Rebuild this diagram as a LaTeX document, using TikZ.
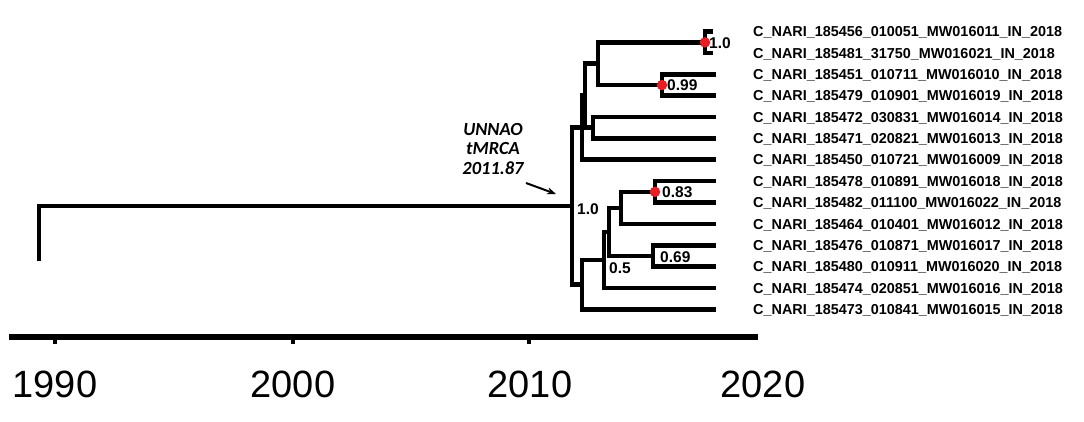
\documentclass[tikz,border=0pt]{standalone}
\usepackage{fontspec}
\setmainfont{Liberation Sans}
\newfontfamily\calib{Carlito}
\usetikzlibrary{arrows.meta}
\definecolor{dotred}{RGB}{232,30,37}
\begin{document}
\begin{tikzpicture}[x=1pt,y=-1pt,
  branch/.style={line width=4.6pt, line cap=butt, line join=miter},
  leaflabel/.style={anchor=base west, inner sep=0pt, font=\bfseries\fontsize{14.4}{16}\selectfont},
  support/.style={anchor=west, inner sep=0pt, font=\bfseries\fontsize{15.5}{17}\selectfont},
  reddot/.style={circle, fill=dotred, minimum size=10.5pt, inner sep=0pt},
  yearlabel/.style={inner sep=0pt, font=\fontsize{38}{40}\selectfont},
  axisline/.style={line width=6pt},
  tickmark/.style={line width=4pt}]
\fill[white] (0,0) rectangle (1084,422);
\useasboundingbox (0,0) rectangle (1084,422);

% leaves (tips)
\coordinate (L1) at (713,31.7);
\coordinate (L2) at (713,53.1);
\coordinate (L3) at (716,74.4);
\coordinate (L4) at (716,95.8);
\coordinate (L5) at (716,117.1);
\coordinate (L6) at (716,138.5);
\coordinate (L7) at (716,159.8);
\coordinate (L8) at (716,181.2);
\coordinate (L9) at (716,202.5);
\coordinate (L10) at (716,223.9);
\coordinate (L11) at (716,245.2);
\coordinate (L12) at (716,266.6);
\coordinate (L13) at (716,287.9);
\coordinate (L14) at (716,309.3);

% internal nodes
\coordinate (A) at (705,42.4);
\coordinate (B) at (662,85.1);
\coordinate (T) at (598,63.75);
\coordinate (S) at (593,127.8);
\coordinate (Q) at (585,95.8);
\coordinate (P) at (582,127.8);
\coordinate (J) at (655,191.85);
\coordinate (O) at (621,207.9);
\coordinate (K) at (653,255.9);
\coordinate (N) at (609,231.9);
\coordinate (M) at (604,259.9);
\coordinate (Lo) at (582,284.6);
\coordinate (R) at (572,206.2);
\coordinate (rs) at (39,261);

% branches
\draw[branch] (rs) |- (R);
\draw[branch] (P) -| (R) |- (Lo);
\draw[branch] (Q) -| (P) |- (L7);
\draw[branch] (T) -| (Q) |- (S);
\draw[branch] (A) -| (T) |- (B);
\draw[branch] (L1) -| (A) |- (L2);
\draw[branch] (L3) -| (B) |- (L4);
\draw[branch] (L5) -| (S) |- (L6);
\draw[branch] (M) -| (Lo) |- (L14);
\draw[branch] (N) -| (M) |- (L13);
\draw[branch] (O) -| (N) |- (K);
\draw[branch] (J) -| (O) |- (L10);
\draw[branch] (L8) -| (J) |- (L9);
\draw[branch] (L11) -| (K) |- (L12);

% red dots
\node[reddot] (dA) at (A) {};
\node[reddot] (dB) at (B) {};
\node[reddot] (dJ) at (J) {};

% support values
\node[support] (sA) at (709,43) {1.0};
\node[support] (sB) at (667,85) {0.99};
\node[support] (sJ) at (662,192) {0.83};
\node[support] (sK) at (660,257) {0.69};
\node[support] (sM) at (609,268) {0.5};
\node[support] (sR) at (577,209) {1.0};

% leaf labels
\node[leaflabel] (t1) at (753,31.7+5.2) {C\_NARI\_185456\_010051\_MW016011\_IN\_2018};
\node[leaflabel] (t2) at (753,53.1+5.2) {C\_NARI\_185481\_31750\_MW016021\_IN\_2018};
\node[leaflabel] (t3) at (753,74.4+5.2) {C\_NARI\_185451\_010711\_MW016010\_IN\_2018};
\node[leaflabel] (t4) at (753,95.8+5.2) {C\_NARI\_185479\_010901\_MW016019\_IN\_2018};
\node[leaflabel] (t5) at (753,117.1+5.2) {C\_NARI\_185472\_030831\_MW016014\_IN\_2018};
\node[leaflabel] (t6) at (753,138.5+5.2) {C\_NARI\_185471\_020821\_MW016013\_IN\_2018};
\node[leaflabel] (t7) at (753,159.8+5.2) {C\_NARI\_185450\_010721\_MW016009\_IN\_2018};
\node[leaflabel] (t8) at (753,181.2+5.2) {C\_NARI\_185478\_010891\_MW016018\_IN\_2018};
\node[leaflabel] (t9) at (753,202.5+5.2) {C\_NARI\_185482\_011100\_MW016022\_IN\_2018};
\node[leaflabel] (t10) at (753,223.9+5.2) {C\_NARI\_185464\_010401\_MW016012\_IN\_2018};
\node[leaflabel] (t11) at (753,245.2+5.2) {C\_NARI\_185476\_010871\_MW016017\_IN\_2018};
\node[leaflabel] (t12) at (753,266.6+5.2) {C\_NARI\_185480\_010911\_MW016020\_IN\_2018};
\node[leaflabel] (t13) at (753,287.9+5.2) {C\_NARI\_185474\_020851\_MW016016\_IN\_2018};
\node[leaflabel] (t14) at (753,309.3+5.2) {C\_NARI\_185473\_010841\_MW016015\_IN\_2018};

% tMRCA annotation
\node[align=center, inner sep=0pt, font=\calib\bfseries\itshape\fontsize{18.5}{19.5}\selectfont] (unnao) at (493,149) {UNNAO\\tMRCA\\2011.87};
\coordinate (as) at (526,183);
\coordinate (ae) at (556,194);
\draw[line width=2pt, -{Stealth[length=9pt,width=7pt]}] (as) -- (ae);

% time axis
\coordinate (ax0) at (9,337);
\coordinate (ax1) at (758,337);
\draw[axisline] (ax0) -- (ax1);
\draw[tickmark] (55,337) -- (55,344);
\draw[tickmark] (293,337) -- (293,344);
\draw[tickmark] (529,337) -- (529,344);
\node[yearlabel] (y1990) at (55,384) {1990};
\node[yearlabel] (y2000) at (293,384) {2000};
\node[yearlabel] (y2010) at (530,384) {2010};
\node[yearlabel] (y2020) at (763,384) {2020};
\end{tikzpicture}
\end{document}
